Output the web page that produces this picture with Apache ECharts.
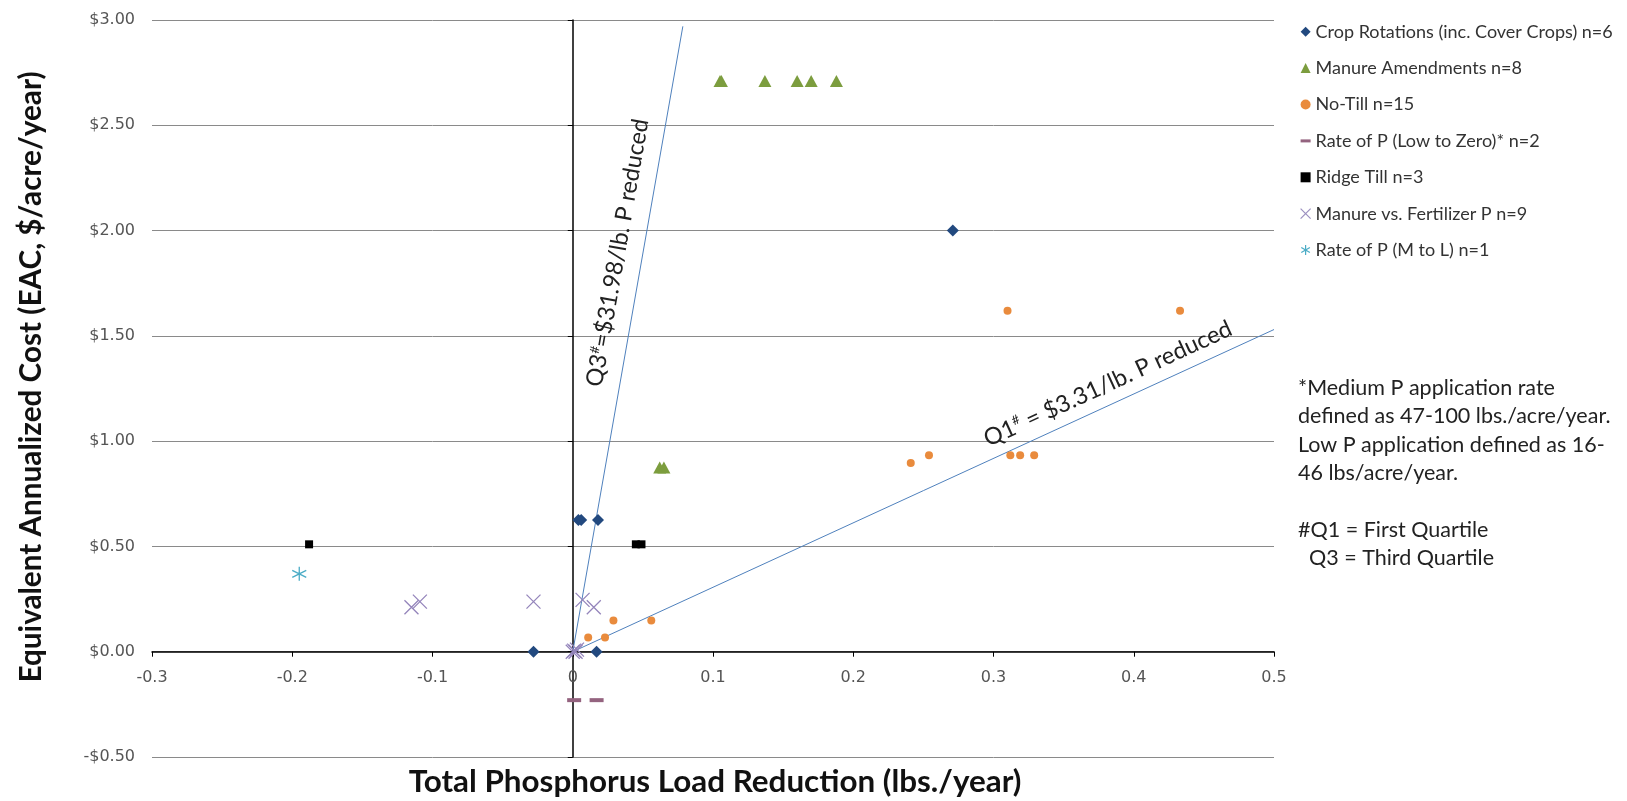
<!DOCTYPE html>
<html>
<head>
<meta charset="utf-8">
<script src="https://cdn.jsdelivr.net/npm/echarts@6/dist/echarts.min.js"></script>
<style>
html,body{margin:0;padding:0;background:#fff;}
#c{width:1627px;height:801px;}
</style>
</head>
<body>
<div id="c"></div>
<script>
// ---- data (x = total P load reduction lbs./year, y = EAC $/acre/year) ----
const seriesNames = [
  'Crop Rotations (inc. Cover Crops) n=6',
  'Manure Amendments n=8',
  'No-Till n=15',
  'Rate of P (Low to Zero)* n=2',
  'Ridge Till n=3',
  'Manure vs. Fertilizer P n=9',
  'Rate of P (M to L) n=1'
];
const cropRotations = [[-0.028,0],[0.017,0],[0.004,0.625],[0.006,0.625],[0.018,0.625],[0.271,2.0]];
const manureAmendments = [[0.105,2.71],[0.106,2.71],[0.137,2.71],[0.160,2.71],[0.170,2.71],[0.188,2.71],[0.062,0.875],[0.065,0.875]];
const noTill = [[0.011,0.067],[0.023,0.067],[0.029,0.148],[0.056,0.148],[0.241,0.896],[0.254,0.933],[0.312,0.933],[0.319,0.933],[0.329,0.933],[0.310,1.619],[0.433,1.619]];
const rateLowToZero = [[0.001,-0.23],[0.017,-0.23]];
const ridgeTill = [[-0.188,0.51],[0.045,0.51],[0.049,0.51]];
const manureVsFertilizer = [[-0.115,0.211],[-0.109,0.238],[-0.028,0.238],[0.007,0.246],[0.015,0.211],[0,0],[0.001,0.005],[0.002,0],[0.003,0.01]];
const rateMtoL = [[-0.195,0.37]];
const q3Line = [[0,0],[0.0785,2.97]];
const q1Line = [[0,0],[0.5,1.53]];
const q3Label = ['Q3', '#', '=$31.98/lb. P reduced'];
const q1Label = ['Q1', '#', ' = $3.31/lb. P reduced'];
const noteLines = [
  '*Medium P application rate',
  'defined as 47-100 lbs./acre/year.',
  'Low P application defined as 16-',
  '46 lbs/acre/year.',
  '',
  '#Q1 = First Quartile',
  '  Q3 = Third Quartile'
];
const xTitle = 'Total Phosphorus Load Reduction (lbs./year)';
const yTitle = 'Equivalent Annualized Cost (EAC, $/acre/year)';
const xMin = -0.3, xMax = 0.5, xStep = 0.1;
const yMin = -0.5, yMax = 3.0, yStep = 0.5;

const X_PATH = 'path://M0,0L10,10M10,0L0,10';
const AST_PATH = 'path://M5,0L5,10M0.7,2.5L9.3,7.5M9.3,2.5L0.7,7.5';
const DASH_PATH = 'path://M0,0H10V3H0Z';

const chart = echarts.init(document.getElementById('c'), null, {renderer:'canvas'});
const tickFont = 'DejaVu Sans';
const textFont = 'Lato';

function yFmt(v){
  const r = Math.round(v*100)/100;
  return (r < 0 ? '-$' : '$') + Math.abs(r).toFixed(2);
}
function xFmt(v){
  const r = Math.round(v*10)/10;
  return r === 0 ? '0' : String(r);
}

const option = {
  backgroundColor: '#ffffff',
  animation: false,
  grid: {left:152, right:353, top:20, bottom:44, containLabel:false, outerBoundsMode:'none'},
  xAxis: {
    type:'value', min:xMin, max:xMax, interval:xStep,
    axisLine:{show:true, onZero:true, lineStyle:{color:'#000', width:1.5}},
    axisTick:{show:true, inside:false, length:5, lineStyle:{color:'#000', width:1}},
    axisLabel:{formatter:xFmt, margin:-87, fontFamily:tickFont, fontSize:16, color:'#555'},
    splitLine:{show:false}
  },
  yAxis: [{
    type:'value', min:yMin, max:yMax, interval:yStep, position:'left',
    axisLine:{show:false, onZero:false},
    axisTick:{show:false},
    axisLabel:{formatter:yFmt, margin:17, fontFamily:tickFont, fontSize:16, color:'#555'},
    splitLine:{show:true, lineStyle:{color:'#8a8a8a', width:1}}
  },{
    type:'value', min:yMin, max:yMax, interval:yStep, position:'left',
    axisLine:{show:true, onZero:true, lineStyle:{color:'#000', width:1.5}},
    axisTick:{show:true, inside:false, length:5, lineStyle:{color:'#000', width:1}},
    axisLabel:{show:false},
    splitLine:{show:false}
  }],
  legend: {
    orient:'vertical', left:1295, top:15.7, itemWidth:10, itemHeight:10, itemGap:14.4,
    textStyle:{fontFamily:textFont, fontSize:18, color:'#333', lineHeight:22},
    selectedMode:false,
    data:[
      {name:seriesNames[0], icon:'diamond'},
      {name:seriesNames[1], icon:'triangle'},
      {name:seriesNames[2], icon:'circle'},
      {name:seriesNames[3], icon:DASH_PATH},
      {name:seriesNames[4], icon:'rect'},
      {name:seriesNames[5], icon:X_PATH, itemStyle:{color:'transparent', borderColor:'#9c90c0', borderWidth:1.2}},
      {name:seriesNames[6], icon:AST_PATH, itemStyle:{color:'transparent', borderColor:'#4bacc6', borderWidth:1.2}}
    ]
  },
  series: [
    {type:'line', name:'Q3', data:q3Line, symbol:'none', silent:true, lineStyle:{color:'#4f81bd', width:1}, z:1},
    {type:'line', name:'Q1', data:q1Line, symbol:'none', silent:true, lineStyle:{color:'#4f81bd', width:1}, z:1},
    {type:'scatter', name:seriesNames[0], data:cropRotations, symbol:'diamond', symbolSize:12, itemStyle:{color:'#22497f', opacity:1}, z:3},
    {type:'scatter', name:seriesNames[1], data:manureAmendments, symbol:'triangle', symbolSize:[13,12], itemStyle:{color:'#7c9d3e', opacity:1}, z:3},
    {type:'scatter', name:seriesNames[2], data:noTill, symbol:'circle', symbolSize:8, itemStyle:{color:'#e98b3d', opacity:1}, z:3},
    {type:'scatter', name:seriesNames[3], data:rateLowToZero, symbol:DASH_PATH, symbolSize:[14,4], symbolKeepAspect:false, itemStyle:{color:'#94637f', opacity:1}, z:3},
    {type:'scatter', name:seriesNames[4], data:ridgeTill, symbol:'rect', symbolSize:8, itemStyle:{color:'#000', opacity:1}, z:3},
    {type:'scatter', name:seriesNames[5], data:manureVsFertilizer, symbol:X_PATH, symbolSize:14, itemStyle:{color:'transparent', borderColor:'#9485bb', borderWidth:1.3, opacity:1}, z:4},
    {type:'scatter', name:seriesNames[6], data:rateMtoL, symbol:AST_PATH, symbolSize:14, itemStyle:{color:'transparent', borderColor:'#4bacc6', borderWidth:1.3, opacity:1}, z:4}
  ]
};
chart.setOption(option);

function labelAt(line, t, off){
  const p0 = chart.convertToPixel({gridIndex:0}, line[0]);
  const p1 = chart.convertToPixel({gridIndex:0}, line[1]);
  const dx = p1[0]-p0[0], dy = p1[1]-p0[1];
  const len = Math.sqrt(dx*dx+dy*dy);
  const ux = dx/len, uy = dy/len;
  const nx = uy, ny = -ux;
  return {
    x: p0[0] + ux*len*t + nx*off,
    y: p0[1] + uy*len*t + ny*off,
    rotation: Math.atan2(-dy, dx)
  };
}
const q3p = labelAt(q3Line, 0.631, 25);
const q1p = labelAt(q1Line, 0.775, 20);
const qRich = {
  m:{fontFamily:textFont, fontSize:23.5, fill:'#222'},
  s:{fontFamily:textFont, fontSize:13, fill:'#222', verticalAlign:'top', padding:[0,0,9,0]}
};
chart.setOption({
  graphic:[
    {type:'text', x:q3p.x, y:q3p.y, rotation:q3p.rotation, silent:true,
     style:{text:'{m|'+q3Label[0]+'}{s|'+q3Label[1]+'}{m|'+q3Label[2]+'}', rich:qRich, align:'center', verticalAlign:'middle'}},
    {type:'text', x:q1p.x, y:q1p.y, rotation:q1p.rotation, silent:true,
     style:{text:'{m|'+q1Label[0]+'}{s|'+q1Label[1]+'}{m|'+q1Label[2]+'}', rich:qRich, align:'center', verticalAlign:'middle'}},
    {type:'text', x:1298, y:374, silent:true,
     style:{text:noteLines.join('\n'), fontFamily:textFont, fontSize:21.5, lineHeight:28.3, fill:'#222', align:'left', verticalAlign:'top'}},
    {type:'text', x:715, y:782, silent:true,
     style:{text:xTitle, fontFamily:textFont, fontWeight:'bold', fontSize:31.4, fill:'#111', align:'center', verticalAlign:'middle'}},
    {type:'text', x:31, y:377, rotation:Math.PI/2, silent:true,
     style:{text:yTitle, fontFamily:textFont, fontWeight:'bold', fontSize:29.7, fill:'#111', align:'center', verticalAlign:'middle'}}
  ]
});
</script>
</body>
</html>
